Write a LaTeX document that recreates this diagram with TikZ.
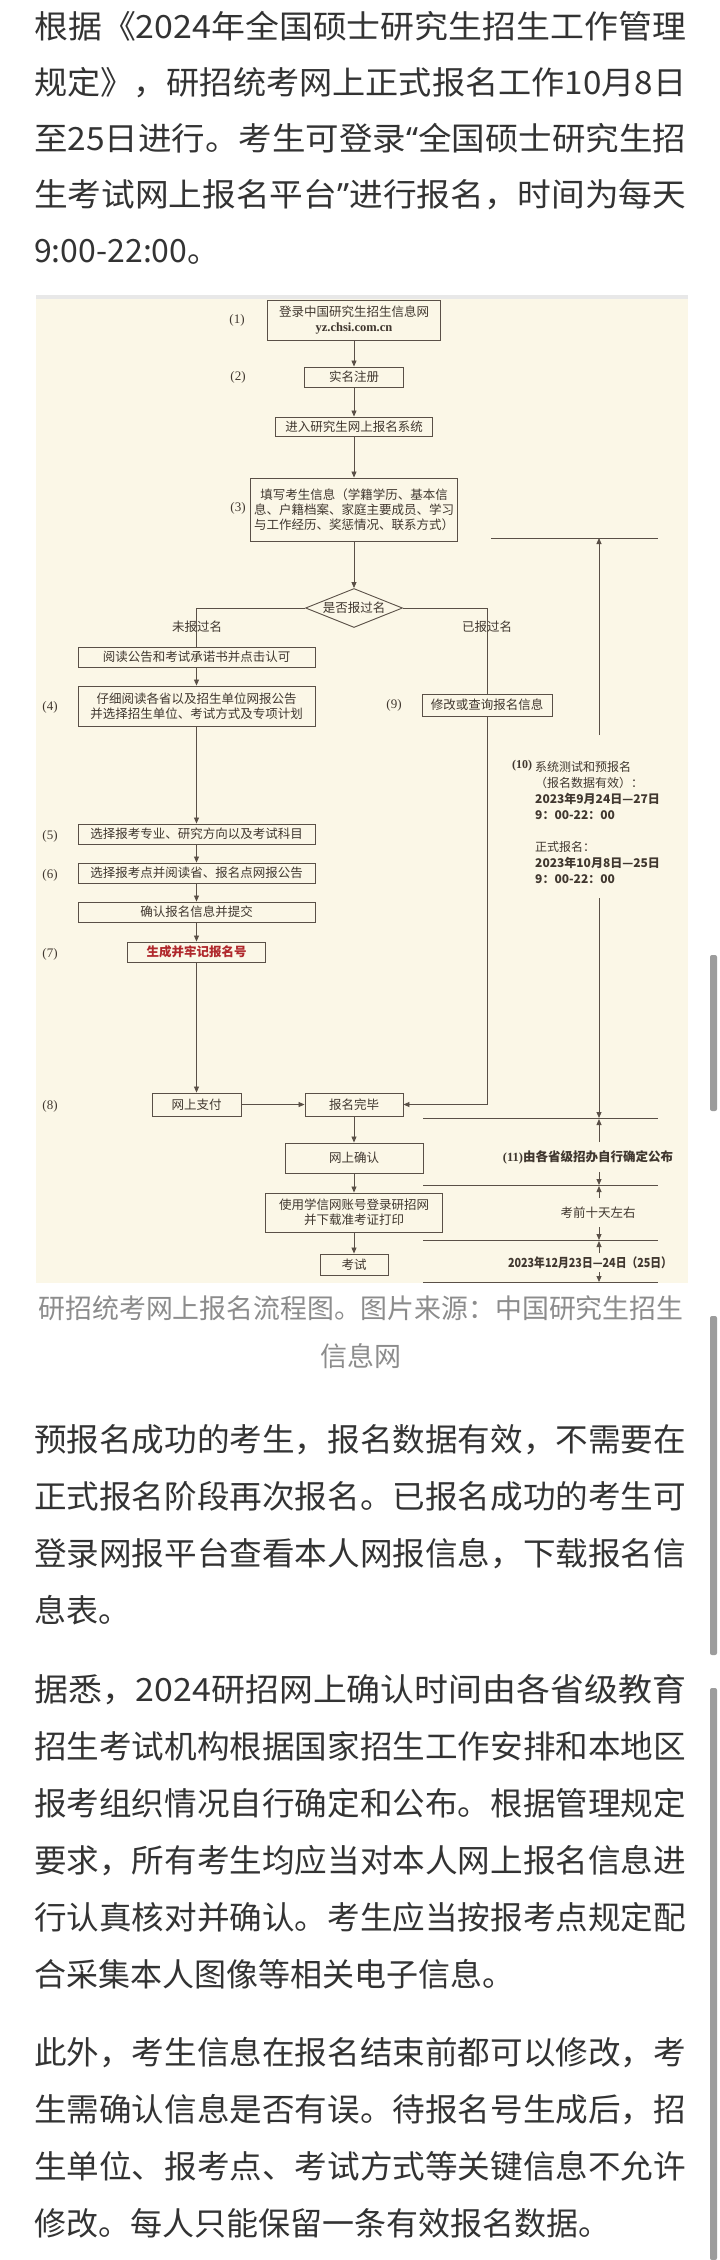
\documentclass[tikz,border=0pt]{standalone}
\usepackage{fontspec}
\setmainfont{Noto Sans CJK SC}
\newfontfamily\seriffont{Liberation Serif}
\newfontfamily\quotefont{Noto Sans}
\usetikzlibrary{arrows.meta,shapes.geometric}
\definecolor{bodytext}{HTML}{333333}
\definecolor{captext}{HTML}{8C8C8C}
\definecolor{cream}{HTML}{FBF7E7}
\definecolor{ink}{HTML}{5A5047}
\definecolor{chtext}{HTML}{40372F}
\definecolor{redtext}{HTML}{B0282C}
\definecolor{barcol}{HTML}{9C9C9C}
\newcommand{\fullline}[1]{\resizebox{652pt}{\height}{#1}}
\begin{document}
\begin{tikzpicture}[x=1pt,y=-1pt,
  para/.style={anchor=west, inner sep=0pt, text=bodytext, font=\fontsize{32}{36}\selectfont, text height=27pt, text depth=5pt},
  captionstyle/.style={inner sep=0pt, text=captext, font=\fontsize{27}{30}\selectfont},
  box/.style={draw=ink, line width=0.9pt, text=chtext, font=\fontsize{12.5}{15}\selectfont, inner sep=0pt, align=center},
  num/.style={inner sep=0pt, text=chtext, font=\seriffont\fontsize{13}{15}\selectfont},
  tl/.style={anchor=west, inner sep=0pt, text=chtext, font=\fontsize{12}{14}\selectfont},
  tc/.style={inner sep=0pt, text=chtext, font=\fontsize{12.5}{14}\selectfont},
  conn/.style={draw=ink, line width=0.85pt},
  arr/.style={conn, -{Triangle[length=6pt,width=5pt]}}
]
\useasboundingbox (0,0) rectangle (720,2260);
\fill[white] (0,0) rectangle (720,2260);

% ---------- paragraph 1
\node[para] (p1a) at (34,27) {\fullline{根据《2024年全国硕士研究生招生工作管理}};
\node[para] (p1b) at (34,83) {\fullline{规定》，研招统考网上正式报名工作10月8日}};
\node[para] (p1c) at (34,139) {\fullline{至25日进行。考生可登录{\quotefont“}全国硕士研究生招}};
\node[para] (p1d) at (34,195) {\fullline{生考试网上报名平台{\quotefont”}进行报名，时间为每天}};
\node[para] (p1e) at (34,251) {9:00-22:00。};

% ---------- flowchart background
\fill[cream] (36,298) rectangle (688,1283);
\fill[gray!18] (36,295) rectangle (688,299);

% main column boxes
\node[box, minimum width=173pt, minimum height=40pt] (b1) at (354,320) {登录中国研究生招生信息网\\{\seriffont\bfseries yz.chsi.com.cn}};
\node[box, minimum width=99pt, minimum height=20pt] (b2) at (354,377) {实名注册};
\node[box, minimum width=157pt, minimum height=19pt] (b3) at (354,426.5) {进入研究生网上报名系统};
\node[box, minimum width=207pt, minimum height=63pt] (b4) at (354,509.5) {填写考生信息（学籍学历、基本信\\息、户籍档案、家庭主要成员、学习\\与工作经历、奖惩情况、联系方式）};
\node[box, diamond, aspect=2.5, minimum width=97pt, minimum height=39pt] (dia) at (354,608) {是否报过名};

% left column
\node[box, minimum width=237pt, minimum height=20pt] (b5) at (196.5,657) {阅读公告和考试承诺书并点击认可};
\node[box, minimum width=237pt, minimum height=40pt] (b6) at (196.5,706) {仔细阅读各省以及招生单位网报公告\\并选择招生单位、考试方式及专项计划};
\node[box, minimum width=237pt, minimum height=20pt] (b10) at (196.5,834) {选择报考专业、研究方向以及考试科目};
\node[box, minimum width=237pt, minimum height=20pt] (b11) at (196.5,873) {选择报考点并阅读省、报名点网报公告};
\node[box, minimum width=237pt, minimum height=20pt] (b12) at (196.5,912) {确认报名信息并提交};
\node[box, minimum width=138pt, minimum height=20pt, text=redtext] (b13) at (196.5,952) {\bfseries 生成并牢记报名号};
\node[box, minimum width=89pt, minimum height=23pt] (b14) at (196.5,1104.5) {网上支付};

% right branch
\node[box, minimum width=130pt, minimum height=22pt] (b9) at (487,705) {修改或查询报名信息};

% lower main column
\node[box, minimum width=98pt, minimum height=23pt] (b15) at (354,1104.5) {报名完毕};
\node[box, minimum width=138pt, minimum height=30pt] (b16) at (354,1158) {网上确认};
\node[box, minimum width=177pt, minimum height=39pt] (b17) at (354,1212.5) {使用学信网账号登录研招网\\并下载准考证打印};
\node[box, minimum width=68pt, minimum height=21pt] (b18) at (354,1264.5) {考试};

% step numbers
\node[num] (n1) at (237,320) {(1)};
\node[num] (n2) at (238,377) {(2)};
\node[num] (n3) at (238,508) {(3)};
\node[num] (n4) at (50,707) {(4)};
\node[num] (n9) at (394,705) {(9)};
\node[num] (n5) at (50,836) {(5)};
\node[num] (n6) at (50,875) {(6)};
\node[num] (n7) at (50,954) {(7)};
\node[num] (n8) at (50,1106) {(8)};

% connectors
\draw[arr] (b1) -- (b2);
\draw[arr] (b2) -- (b3);
\draw[arr] (b3) -- (b4);
\draw[arr] (b4) -- (dia);
\draw[conn] (dia.west) -| (b5.north);
\draw[conn] (dia.east) -| (b9.north);
\draw[arr] (b5) -- (b6);
\draw[arr] (b6) -- (b10);
\draw[arr] (b10) -- (b11);
\draw[arr] (b11) -- (b12);
\draw[arr] (b12) -- (b13);
\draw[arr] (b13) -- (b14);
\draw[arr] (b14) -- (b15);
\draw[arr] (b9.south) |- (b15.east);
\draw[arr] (b15) -- (b16);
\draw[arr] (b16) -- (b17);
\draw[arr] (b17) -- (b18);

\node[tc] (lno) at (197,627) {未报过名};
\node[tc] (lyes) at (487,627) {已报过名};

% right timeline
\coordinate (h0l) at (491,538); \coordinate (h0r) at (658,538);
\draw[conn] (h0l) -- (h0r);
\coordinate (ua) at (599,735); \coordinate (ub) at (599,538);
\draw[arr] (ua) -- (ub);

\node[inner sep=0pt, text=chtext, font=\seriffont\bfseries\fontsize{12}{14}\selectfont] (n10) at (522,766) {(10)};
\node[tl] (t1) at (535,767) {系统测试和预报名};
\node[tl] (t2) at (535,783) {（报名数据有效）：};
\node[tl] (t3) at (535,799) {\bfseries 2023年9月24日—27日};
\node[tl] (t4) at (535,815) {\bfseries 9：00-22：00};
\node[tl] (t5) at (535,847) {正式报名：};
\node[tl] (t6) at (535,863) {\bfseries 2023年10月8日—25日};
\node[tl] (t7) at (535,879) {\bfseries 9：00-22：00};

\coordinate (da) at (599,898); \coordinate (db) at (599,1118);
\draw[arr] (da) -- (db);

\coordinate (h1l) at (423,1118); \coordinate (h1r) at (658,1118);
\coordinate (h2l) at (423,1185); \coordinate (h2r) at (658,1185);
\coordinate (h3l) at (423,1240); \coordinate (h3r) at (658,1240);
\coordinate (h4l) at (423,1282); \coordinate (h4r) at (658,1282);
\draw[conn] (h1l) -- (h1r);
\draw[conn] (h2l) -- (h2r);
\draw[conn] (h3l) -- (h3r);
\draw[conn] (h4l) -- (h4r);

\node[tc] (t11) at (588,1157) {\bfseries{\seriffont(11)}由各省级招办自行确定公布};
\node[tc] (t12) at (598,1213) {考前十天左右};
\node[tc] (t13) at (590,1263) {\resizebox{164pt}{\height}{\bfseries 2023年12月23日—24日（25日）}};

\coordinate (a1s) at (599,1142); \coordinate (a1e) at (599,1119);
\coordinate (a2s) at (599,1172); \coordinate (a2e) at (599,1185);
\coordinate (a3s) at (599,1198); \coordinate (a3e) at (599,1186);
\coordinate (a4s) at (599,1227); \coordinate (a4e) at (599,1240);
\coordinate (a5s) at (599,1253); \coordinate (a5e) at (599,1241);
\coordinate (a6s) at (599,1272); \coordinate (a6e) at (599,1282);
\draw[arr] (a1s) -- (a1e);
\draw[arr] (a2s) -- (a2e);
\draw[arr] (a3s) -- (a3e);
\draw[arr] (a4s) -- (a4e);
\draw[arr] (a5s) -- (a5e);
\draw[arr] (a6s) -- (a6e);

% ---------- caption
\node[captionstyle] (cap1) at (361,1308) {\resizebox{645pt}{\height}{研招统考网上报名流程图。图片来源：中国研究生招生}};
\node[captionstyle] (cap2) at (361,1356) {信息网};

% ---------- paragraph 2
\node[para] (p2a) at (34,1440) {\fullline{预报名成功的考生，报名数据有效，不需要在}};
\node[para] (p2b) at (34,1497) {\fullline{正式报名阶段再次报名。已报名成功的考生可}};
\node[para] (p2c) at (34,1554) {\fullline{登录网报平台查看本人网报信息，下载报名信}};
\node[para] (p2d) at (34,1611) {息表。};

% ---------- paragraph 3
\node[para] (p3a) at (34,1690) {\fullline{据悉，2024研招网上确认时间由各省级教育}};
\node[para] (p3b) at (34,1747) {\fullline{招生考试机构根据国家招生工作安排和本地区}};
\node[para] (p3c) at (34,1804) {\fullline{报考组织情况自行确定和公布。根据管理规定}};
\node[para] (p3d) at (34,1861) {\fullline{要求，所有考生均应当对本人网上报名信息进}};
\node[para] (p3e) at (34,1918) {\fullline{行认真核对并确认。考生应当按报考点规定配}};
\node[para] (p3f) at (34,1975) {合采集本人图像等相关电子信息。};

% ---------- paragraph 4
\node[para] (p4a) at (34,2053) {\fullline{此外，考生信息在报名结束前都可以修改，考}};
\node[para] (p4b) at (34,2110) {\fullline{生需确认信息是否有误。待报名号生成后，招}};
\node[para] (p4c) at (34,2167) {\fullline{生单位、报考点、考试方式等关键信息不允许}};
\node[para] (p4d) at (34,2224) {修改。每人只能保留一条有效报名数据。};

% ---------- scroll bars
\fill[barcol, rounded corners=2pt] (710,955) rectangle (717,1111);
\fill[barcol, rounded corners=2pt] (710,1316) rectangle (717,1655);
\fill[barcol, rounded corners=2pt] (710,1688) rectangle (717,2260);
\end{tikzpicture}
\end{document}
